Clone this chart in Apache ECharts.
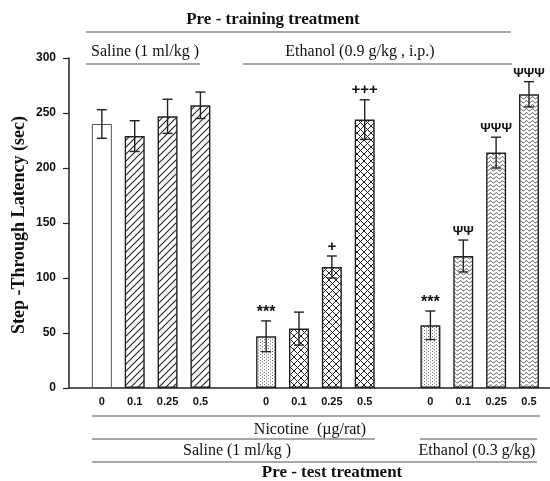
<!DOCTYPE html>
<html><head><meta charset="utf-8">
<script src="https://cdn.jsdelivr.net/npm/echarts@6/dist/echarts.min.js"></script>
<style>html,body{margin:0;padding:0;background:#fff}#c{width:550px;height:481px}</style>
</head><body><div id="c"></div>
<script>
// ---- data ----
const doseLabels = ['0','0.1','0.25','0.5','0','0.1','0.25','0.5','0','0.1','0.25','0.5'];
const slots = [0,1,2,3,5,6,7,8,10,11,12,13];
const latency = [240,229,247,257,47,54,110,244,57,120,214,267];
const sem = [13,14,15.5,12,14,15,10,18,13,14.5,14,11.5];
const sigMarks = ['','','','','***','','+','+++','***','ΨΨ','ΨΨΨ','ΨΨΨ'];
const fillKinds = ['white','hatch','hatch','hatch','dots','cross','cross','cross','dots','wave','wave','wave'];
const yAxisTitle = 'Step -Through Latency (sec)';

// ---- patterns ----
function makePattern(kind){
  if(kind==='white') return '#ffffff';
  const c=document.createElement('canvas');
  let w=7,h=7;
  if(kind==='dots'){w=4;h=3;}
  if(kind==='wave'){w=6;h=4;}
  c.width=w;c.height=h;
  const g=c.getContext('2d');
  g.fillStyle='#fff';g.fillRect(0,0,w,h);
  if(kind==='hatch'){
    g.strokeStyle='#222';g.lineWidth=1.1;
    g.beginPath();
    g.moveTo(-1,h+1);g.lineTo(w+1,-1);
    g.moveTo(-1,1);g.lineTo(1,-1);
    g.moveTo(w-1,h+1);g.lineTo(w+1,h-1);
    g.stroke();
  } else if(kind==='cross'){
    g.strokeStyle='#222';g.lineWidth=1;
    g.beginPath();
    g.moveTo(-1,h+1);g.lineTo(w+1,-1);
    g.moveTo(-1,-1);g.lineTo(w+1,h+1);
    g.stroke();
  } else if(kind==='dots'){
    g.fillStyle='#6a6a6a';
    g.fillRect(0,0,1,1);
    g.fillRect(2,1.5,1,1);
  } else if(kind==='wave'){
    g.strokeStyle='#444';g.lineWidth=1;
    g.beginPath();
    for(let x=0;x<=w;x+=0.5){
      const y=1.8+1.1*Math.sin(x/w*2*Math.PI);
      if(x===0) g.moveTo(x,y); else g.lineTo(x,y);
    }
    g.stroke();
  }
  return {image:c, repeat:'repeat'};
}
const patterns={};
['white','hatch','dots','cross','wave'].forEach(k=>patterns[k]=makePattern(k));

const chart = echarts.init(document.getElementById('c'), null, {renderer:'canvas'});
const gray='#8a8a8a';
const serif="'Liberation Serif','Times New Roman',serif";
const sans="'Liberation Sans',Arial,sans-serif";
function hline(x1,x2,y){return {type:'line',shape:{x1:x1,y1:y,x2:x2,y2:y},style:{stroke:gray,lineWidth:1.5},silent:true};}
function txt(x,y,t,size,bold){return {type:'text',x:x,y:y,style:{text:t,align:'center',verticalAlign:'middle',font:(bold?'bold ':'')+size+'px '+serif,fill:'#111'},silent:true};}

const option = {
  animation:false,
  backgroundColor:'#fff',
  grid:{left:69,right:0,top:58,bottom:93,containLabel:false},
  xAxis:{type:'value',min:-1,max:13.64,interval:1,
    axisLine:{show:true,onZero:false,lineStyle:{color:'#222',width:1.5}},
    axisTick:{show:false},splitLine:{show:false},
    axisLabel:{margin:8,fontSize:11,fontWeight:'bold',fontFamily:sans,color:'#111',showMaxLabel:false,
      formatter:function(v){const r=Math.round(v);if(Math.abs(v-r)>1e-6)return '';const i=slots.indexOf(r);return i>=0?doseLabels[i]:'';}}
  },
  yAxis:{type:'value',min:0,max:300,interval:50,
    axisLine:{show:true,onZero:false,lineStyle:{color:'#222',width:1.5}},
    axisTick:{show:true,length:6,lineStyle:{color:'#222',width:1.2}},
    splitLine:{show:false},
    axisLabel:{margin:13,fontSize:12,fontWeight:'bold',fontFamily:sans,color:'#111'}
  },
  series:[
    {type:'bar',barWidth:20,
      data:slots.map((s,i)=>({value:[s,latency[i]],itemStyle:{color:patterns[fillKinds[i]],borderColor:fillKinds[i]==='white'?'#555':'#222',borderWidth:fillKinds[i]==='white'?1:1.4}})),
      z:2},
    {type:'custom',z:5,
      data:slots.map((s,i)=>[s,latency[i],sem[i]]),
      renderItem:function(params,api){
        const x=api.value(0),m=api.value(1),e=api.value(2);
        const top=api.coord([x,m+e]),bot=api.coord([x,m-e]);
        const cx=top[0],hw=5;
        const st={stroke:'#222',lineWidth:1.4};
        const children=[
          {type:'line',shape:{x1:cx,y1:top[1],x2:cx,y2:bot[1]},style:st},
          {type:'line',shape:{x1:cx-hw,y1:top[1],x2:cx+hw,y2:top[1]},style:st},
          {type:'line',shape:{x1:cx-hw,y1:bot[1],x2:cx+hw,y2:bot[1]},style:st}
        ];
        const mk=sigMarks[params.dataIndex];
        if(mk){
          const isStar=mk.indexOf('*')>=0;
          const isPsi=mk.indexOf('Ψ')>=0;
          children.push({type:'text',style:{text:mk,x:cx,y:top[1]-(isStar?0:2),align:'center',verticalAlign:'bottom',
            font:'bold '+(isStar?16:(isPsi?13:15))+'px '+sans,fill:'#111'}});
        }
        return {type:'group',children:children};
      }}
  ],
  graphic:[
    txt(273,20,'Pre - training treatment',17,true),
    hline(86,511,32),
    txt(145,52,'Saline (1 ml/kg )',16,false),
    txt(360,52,'Ethanol (0.9 g/kg , i.p.)',16,false),
    hline(86,200,64),
    hline(243,512,64),
    {type:'text',x:19,y:225,rotation:Math.PI/2,style:{text:yAxisTitle,align:'center',verticalAlign:'middle',font:'bold 18px '+serif,fill:'#111'},silent:true},
    hline(92,540,416),
    txt(310,430,'Nicotine  (µg/rat)',16,false),
    hline(92,375,439),
    hline(420,537,439),
    txt(237,451,'Saline (1 ml/kg )',16,false),
    txt(477,451,'Ethanol (0.3 g/kg)',16,false),
    hline(92,537,462),
    txt(332,473,'Pre - test treatment',17,true)
  ]
};
chart.setOption(option);
</script></body></html>
